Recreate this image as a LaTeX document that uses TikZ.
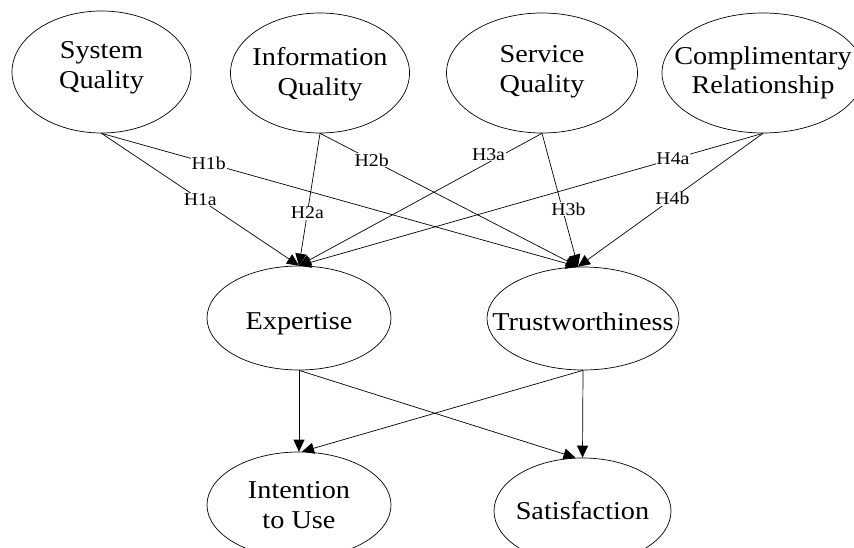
\documentclass[tikz,border=0pt]{standalone}
\usepackage{fontspec}
\setmainfont{Liberation Serif}[FakeStretch=1.1]
\usetikzlibrary{shapes.geometric,arrows.meta}
\begin{document}
\begin{tikzpicture}[x=1pt,y=-1pt,
  var/.style={draw, ellipse, line width=0.7pt, inner sep=0pt},
  vtext/.style={align=center, inner sep=0pt, font=\fontsize{25.7}{29.5}\selectfont},
  arr/.style={line width=0.7pt, -{Triangle[length=12pt,width=11pt]}},
  lab/.style={fill=white, inner sep=0.8pt, font=\fontsize{18}{20}\selectfont}]
\useasboundingbox (0,0) rectangle (854,548);
\fill[white] (0,0) rectangle (854,548);
% top row
\node[var, minimum width=179pt, minimum height=122pt,
  label={[vtext, yshift=4pt]center:System\\Quality}] (sq) at (101.5,72) {};
\node[var, minimum width=179pt, minimum height=120pt,
  label={[vtext, yshift=-1pt]center:Information\\Quality}] (iq) at (320,73) {};
\node[var, minimum width=191pt, minimum height=120pt,
  label={[vtext, yshift=1pt]center:Service\\Quality}] (sv) at (542,73) {};
\node[var, minimum width=202pt, minimum height=120pt,
  label={[vtext]center:Complimentary\\Relationship}] (cr) at (763,73) {};
% middle row
\node[var, minimum width=184pt, minimum height=104pt,
  label={[vtext, yshift=-6pt]center:Expertise}] (exp) at (299,318) {};
\node[var, minimum width=192pt, minimum height=103pt,
  label={[vtext, yshift=-3pt]center:Trustworthiness}] (tru) at (583,318.5) {};
% bottom row
\node[var, minimum width=184pt, minimum height=106pt,
  label={[vtext]center:Intention\\to Use}] (int) at (299,505) {};
\node[var, minimum width=177pt, minimum height=106pt,
  label={[vtext]center:Satisfaction}] (sat) at (582.5,511) {};
% hypothesis paths
\draw[arr] (sq.south) -- node[lab, pos=0.5] {H1a} (exp.north);
\draw[arr] (sq.south) -- node[lab, pos=0.225] {H1b} ([xshift=-5pt]tru.north);
\draw[arr] (iq.south) -- node[lab, pos=0.6] {H2a} (exp.north);
\draw[arr] (iq.south) -- node[lab, pos=0.2] {H2b} ([xshift=-5pt]tru.north);
\draw[arr] (sv.south) -- node[lab, pos=0.22, yshift=8pt] {H3a} (exp.north);
\draw[arr] (sv.south) -- node[lab, pos=0.567, xshift=6pt] {H3b} ([xshift=-5pt]tru.north);
\draw[arr] (cr.south) -- node[lab, pos=0.194] {H4a} (exp.north);
\draw[arr] (cr.south) -- node[lab, pos=0.49] {H4b} ([xshift=-5pt]tru.north);
% outcome paths
\draw[arr] (exp.south) -- (int.north);
\draw[arr] (exp.south) -- ([xshift=-7pt]sat.north);
\draw[arr] (tru.south) -- ([xshift=3pt]int.north);
\draw[arr] (tru.south) -- (sat.north);
\end{tikzpicture}
\end{document}
